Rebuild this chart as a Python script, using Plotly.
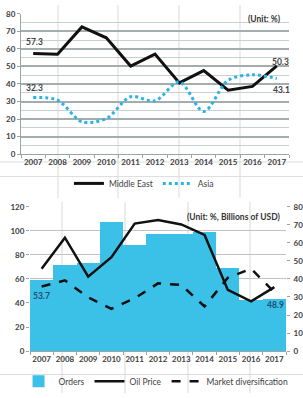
import plotly.graph_objects as go

W, H = 303, 398

# ---------------- data ----------------
years = ["2007", "2008", "2009", "2010", "2011", "2012", "2013", "2014", "2015", "2016", "2017"]

middle_east = [57.3, 57.0, 72.5, 66.3, 50.2, 57.0, 40.6, 47.6, 36.4, 38.6, 50.3]
asia = [32.3, 30.8, 18.5, 20.3, 32.7, 30.4, 41.2, 24.3, 42.1, 45.2, 43.1]

orders = [39.8, 47.6, 49.1, 71.6, 59.1, 64.9, 65.2, 66.0, 46.1, 28.2, 29.0]          # billions USD (right axis)
oil_price = [68.4, 94.3, 61.9, 78.1, 106.0, 109.0, 105.3, 96.6, 50.9, 41.4, 53.2]    # left axis
market_div = [53.7, 58.8, 44.7, 35.2, 43.9, 56.3, 55.0, 37.1, 61.0, 68.5, 48.9]     # %, left axis

top_ticks = [0, 10, 20, 30, 40, 50, 60, 70, 80]
left_ticks = [0, 20, 40, 60, 80, 100, 120]
right_ticks = [0, 10, 20, 30, 40, 50, 60, 70, 80]


def px(x):
    return x / W


def py(y):
    return 1 - y / H


FONT = "Lato"
TXT = "#404040"
tickfont = dict(family=FONT, size=8, color=TXT, weight="bold")
labfont = dict(family=FONT, size=8.5, color=TXT, weight="bold")
labfont2 = dict(family=FONT, size=8.5, color="#1F4E6E", weight="bold")

fig = go.Figure()

# ---------------- top chart ----------------
fig.add_trace(go.Scatter(
    x=years, y=middle_east, name="Middle East", mode="lines",
    line=dict(color="#111111", width=3),
    xaxis="x", yaxis="y", legend="legend",
))
fig.add_trace(go.Scatter(
    x=years, y=asia, name="Asia", mode="lines",
    line=dict(color="#2BB3E6", width=3, dash="dot", shape="spline", smoothing=0.9),
    xaxis="x", yaxis="y", legend="legend",
))

# ---------------- bottom chart ----------------
fig.add_trace(go.Bar(
    x=years, y=orders, name="Orders", width=1,
    marker=dict(color="#3BC0E8", line=dict(width=0)),
    xaxis="x2", yaxis="y2", legend="legend2",
))
fig.add_trace(go.Scatter(
    x=years, y=oil_price, name="Oil Price", mode="lines",
    line=dict(color="#111111", width=2.5),
    xaxis="x2", yaxis="y3", legend="legend2",
))
fig.add_trace(go.Scatter(
    x=years, y=market_div, name="Market diversification", mode="lines",
    line=dict(color="#111111", width=2.5, dash="dash"),
    xaxis="x2", yaxis="y3", legend="legend2",
))

# ---------------- end-point value labels ----------------
FIRST, LAST = 0, len(years) - 1


def lab(i, vals, xa, ya, dx, dy, font):
    # category index i on a category axis
    return dict(text=f"{vals[i]:.1f}", x=i, y=vals[i], xref=xa, yref=ya, xshift=dx, yshift=dy,
                showarrow=False, font=font, xanchor="center", yanchor="middle")


annotations = [
    lab(FIRST, middle_east, "x", "y", 1.5, 12, labfont),
    lab(FIRST, asia, "x", "y", 1, 9, labfont),
    lab(LAST, middle_east, "x", "y", 4, 4, labfont),
    lab(LAST, asia, "x", "y", 5, -11.5, labfont),
    lab(FIRST, market_div, "x2", "y3", 0, -9.5, labfont2),
    lab(LAST, market_div, "x2", "y3", 1, -13, labfont2),
    dict(text="(Unit: %)", xref="paper", yref="paper", x=px(283), y=py(14),
         xanchor="right", yanchor="middle", showarrow=False,
         font=dict(family=FONT, size=8.5, color="#333333", weight="bold")),
    dict(text="(Unit: %, Billions of USD)", xref="paper", yref="paper", x=px(282), y=py(217),
         xanchor="right", yanchor="middle", showarrow=False,
         font=dict(family=FONT, size=8.5, color="#333333", weight="bold")),
]

# ---------------- decorative background lines (scan grid) ----------------
shapes = []
for x in [58, 118, 179, 240]:
    shapes.append(dict(type="line", xref="paper", yref="paper", x0=px(x), x1=px(x),
                       y0=py(0), y1=py(198), line=dict(color="#D9D9D9", width=1), layer="below"))
for x in [62, 125, 188, 250]:
    shapes.append(dict(type="line", xref="paper", yref="paper", x0=px(x), x1=px(x),
                       y0=py(202), y1=py(398), line=dict(color="#D9D9D9", width=1), layer="below"))
for y in [161, 176, 379]:
    shapes.append(dict(type="line", xref="paper", yref="paper", x0=0, x1=1,
                       y0=py(y), y1=py(y), line=dict(color="#DDDDDD", width=1), layer="below"))

# left-axis gridlines (every 20 on the 0-120 scale) expressed on the right 0-80 base axis
grid_right = [v * 80 / 120 for v in left_ticks]
xr = [-0.5, len(years) - 0.5]

fig.update_layout(
    width=W, height=H,
    margin=dict(l=0, r=0, t=0, b=0),
    paper_bgcolor="white", plot_bgcolor="rgba(0,0,0,0)",
    bargap=0,
    font=dict(family=FONT, size=8, color=TXT),
    shapes=shapes,
    annotations=annotations,
    xaxis=dict(
        domain=[px(21), px(289)], anchor="y", type="category", range=xr,
        showline=True, linecolor="#9AA5A5", linewidth=1,
        ticks="outside", ticklen=3, tickcolor="#9AA5A5", tickson="boundaries",
        showgrid=False, tickfont=tickfont, tickangle=0,
    ),
    yaxis=dict(
        domain=[py(153), py(9)], anchor="x", range=[0, 80],
        tickvals=top_ticks,
        showgrid=True, gridcolor="#A3ADAD", gridwidth=2,
        minor=dict(dtick=5, showgrid=True, gridcolor="#C9D0D0", gridwidth=1),
        zeroline=False, showline=True, linecolor="#9AA5A5", linewidth=1,
        ticks="outside", ticklen=3, tickcolor="#9AA5A5",
        tickfont=tickfont,
    ),
    xaxis2=dict(
        domain=[px(30), px(286)], anchor="y2", type="category", range=xr,
        showline=True, linecolor="#9AA5A5", linewidth=1,
        ticks="outside", ticklen=3, tickcolor="#9AA5A5", tickson="boundaries",
        showgrid=False, tickfont=tickfont, tickangle=0,
    ),
    yaxis2=dict(
        domain=[py(355), py(207)], anchor="x2", side="right", range=[0, 80],
        tickvals=right_ticks, showgrid=False, zeroline=False,
        minor=dict(tickvals=grid_right, showgrid=True, gridcolor="#BFC5C5", gridwidth=1, ticks=""),
        showline=False, ticks="outside", ticklen=3, tickcolor="#9AA5A5",
        tickfont=tickfont, ticklabelstandoff=2,
    ),
    yaxis3=dict(
        anchor="x2", overlaying="y2", side="left", range=[0, 120],
        tickvals=left_ticks, showgrid=False,
        zeroline=False, showline=False, ticks="outside", ticklen=3, tickcolor="#9AA5A5",
        tickfont=tickfont,
    ),
    legend=dict(
        orientation="h", x=0.475, y=py(183), xanchor="center", yanchor="middle",
        font=dict(family=FONT, size=8.5, color=TXT), bgcolor="rgba(0,0,0,0)",
        itemwidth=30, tracegroupgap=0,
    ),
    legend2=dict(
        orientation="h", x=0.515, y=py(386), xanchor="center", yanchor="middle",
        font=dict(family=FONT, size=8.5, color=TXT), bgcolor="rgba(0,0,0,0)",
        itemwidth=30, tracegroupgap=0,
    ),
)

fig.write_html("out.html")
